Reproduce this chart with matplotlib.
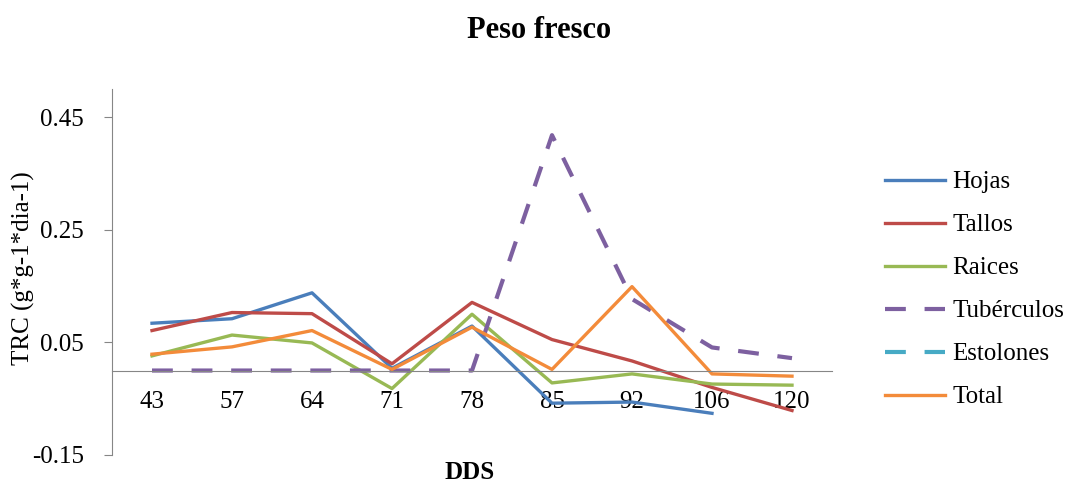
import numpy as np
import matplotlib
matplotlib.use('Agg')
import matplotlib.pyplot as plt

dds = ['43', '57', '64', '71', '78', '85', '92', '106', '120']
hojas = [0.084, 0.092, 0.138, 0.004, 0.079, -0.058, -0.056, -0.076, np.nan]
tallos = [0.071, 0.103, 0.101, 0.012, 0.121, 0.055, 0.017, -0.030, -0.071]
raices = [0.026, 0.063, 0.049, -0.032, 0.100, -0.022, -0.006, -0.024, -0.026]
tuberculos = [0.0, 0.0, 0.0, 0.0, 0.0, 0.418, 0.127, 0.041, 0.022]
estolones = [np.nan] * 9
total = [0.029, 0.042, 0.071, 0.002, 0.077, 0.002, 0.149, -0.006, -0.010]

colors = ['#4A7EBB', '#BE4B48', '#98B954', '#7D60A0', '#46AAC5', '#F38B3A']
yticks = [-0.15, 0.05, 0.25, 0.45]

plt.rcParams['font.family'] = ['Liberation Serif', 'DejaVu Serif']

fig = plt.figure(figsize=(10.78, 4.86), dpi=100)
ax = fig.add_axes([0.1039, 0.0638, 0.6679, 0.7531])

x = np.arange(len(dds))
ax.plot(x, hojas, color=colors[0], lw=2.4, label='Hojas')
ax.plot(x, tallos, color=colors[1], lw=2.4, label='Tallos')
ax.plot(x, raices, color=colors[2], lw=2.4, label='Raices')
ax.plot(x, tuberculos, color=colors[3], lw=3, dashes=(5, 4.5), label='Tubérculos')
ax.plot(x, estolones, color=colors[4], lw=3, dashes=(5, 4.5), label='Estolones')
ax.plot(x, total, color=colors[5], lw=2.4, label='Total')

ax.set_xlim(-0.5, len(dds) - 0.5)
ax.set_ylim(-0.15, 0.5)
ax.set_yticks(yticks)
ax.set_yticklabels(['-0.15', '0.05', '0.25', '0.45'])
ax.set_xticks(x)
ax.set_xticklabels(dds)

for s in ['top', 'right']:
    ax.spines[s].set_visible(False)
ax.spines['bottom'].set_position(('data', 0))
ax.spines['bottom'].set_color('#868686')
ax.spines['left'].set_color('#868686')
ax.tick_params(axis='x', length=0, pad=15, labelsize=18)
ax.tick_params(axis='y', length=6, color='#868686', pad=14, labelsize=18)

fig.text(0.5, 0.938, 'Peso fresco', ha='center', va='center', fontsize=22, fontweight='bold')
fig.text(0.436, 0.028, 'DDS', ha='center', va='center', fontsize=18, fontweight='bold')
fig.text(0.022, 0.448, 'TRC (g*g-1*dia-1)', ha='center', va='center', rotation=90, fontsize=18)

ax.legend(loc='center left', bbox_to_anchor=(1.042, 0.452), frameon=False, fontsize=18,
          handlelength=2.4, handletextpad=0.3, labelspacing=0.82)

fig.savefig('out.png', dpi=100)
